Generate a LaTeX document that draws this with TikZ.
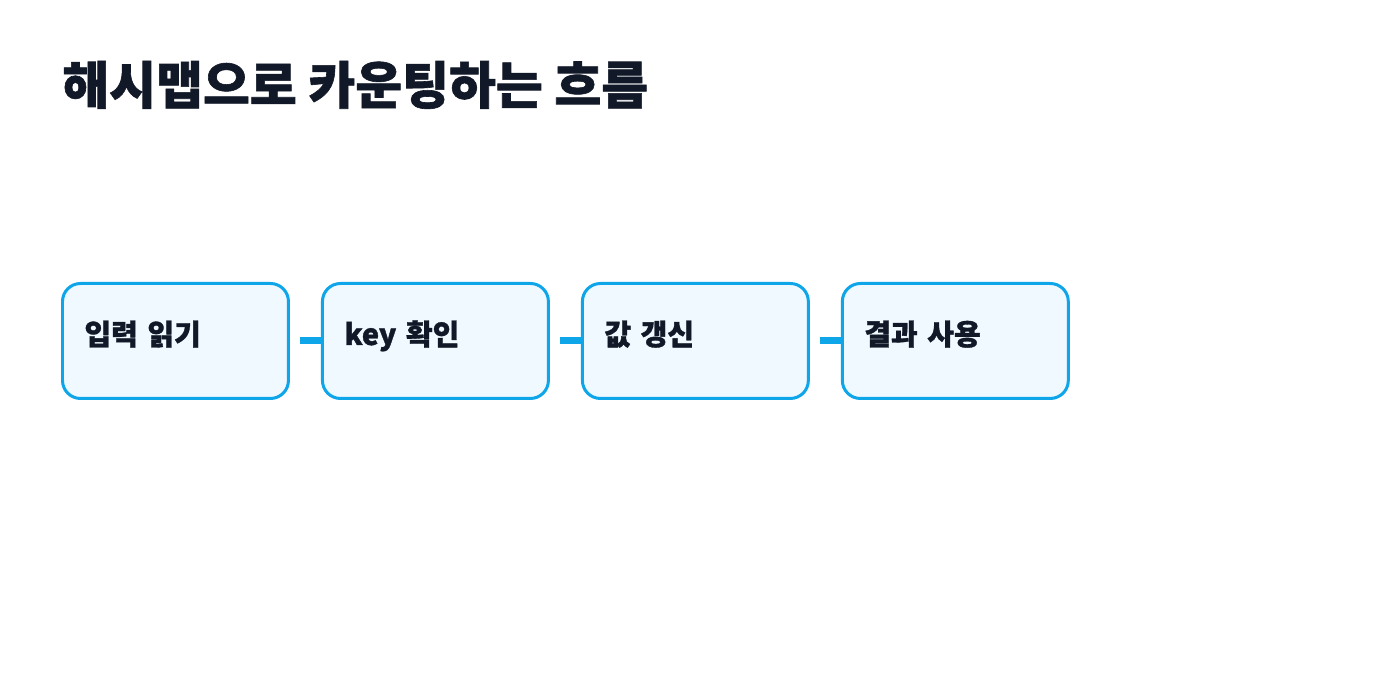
\documentclass[tikz,border=0pt]{standalone}
\usepackage{fontspec}
\setmainfont{Noto Sans CJK KR}[BoldFeatures={FakeBold=1.2}]
\usetikzlibrary{positioning}
\definecolor{edgeblue}{HTML}{0EA5E9}
\definecolor{boxfill}{HTML}{F0F9FF}
\definecolor{inkdark}{HTML}{111827}
\begin{document}
\begin{tikzpicture}[
x=0.02cm,y=0.02cm,
node distance=0.62cm,
stepbox/.style={draw=edgeblue,fill=boxfill,line width=0.06cm,rounded corners=0.36cm,
  minimum width=4.52cm,minimum height=2.3cm,text width=3.64cm,align=left,
  text height=0.4cm,text depth=0.24cm,font=\fontsize{16.5}{18}\selectfont\bfseries,text=inkdark},
link/.style={draw=edgeblue,line width=0.14cm,shorten <=0.2cm}]
\useasboundingbox (0,0) rectangle (1400,700);
\node[anchor=base west,inner sep=0pt,text=inkdark,font=\fontsize{29}{32}\selectfont\bfseries] (title) at (62,596) {해시맵으로 카운팅하는 흐름};
\node[stepbox,anchor=north west] (read) at (61,418) {입력 읽기};
\node[stepbox,right=of read] (check) {key 확인};
\node[stepbox,right=of check] (update) {값 갱신};
\node[stepbox,right=of update] (use) {결과 사용};
\draw[link] (read) -- (check);
\draw[link] (check) -- (update);
\draw[link] (update) -- (use);
\end{tikzpicture}
\end{document}
